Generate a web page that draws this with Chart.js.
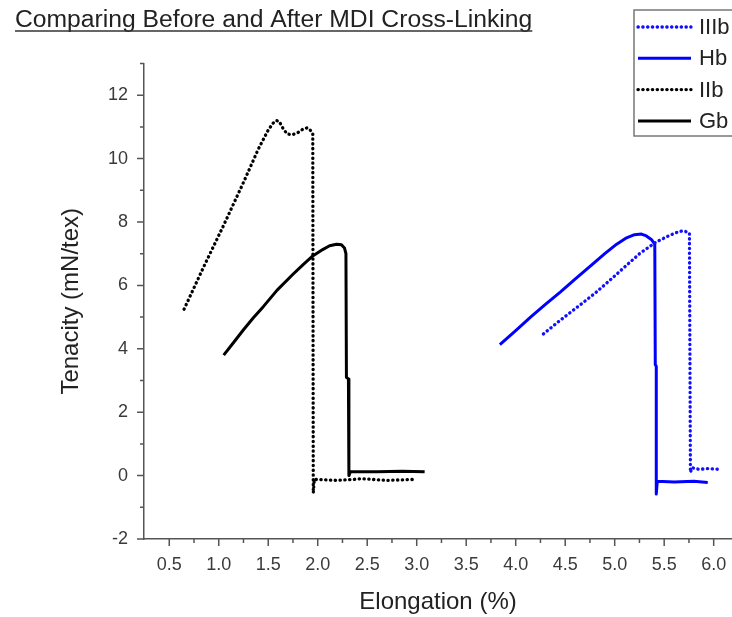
<!DOCTYPE html>
<html>
<head>
<meta charset="utf-8">
<title>MDI Cross-Linking</title>
<script src="https://cdn.jsdelivr.net/npm/chart.js@4.4.1/dist/chart.umd.min.js"></script>
<style>
  html, body { margin: 0; padding: 0; background: #fff; overflow: hidden; }
  #wrap { width: 732px; height: 617px; }
</style>
</head>
<body>
<div id="wrap"><canvas id="tensileChart" width="732" height="617"></canvas></div>
<script>
// IIIb - after cross-linking (dotted blue)
const iiibElong    = [4.28, 4.45, 4.62, 4.80, 4.95, 5.10, 5.25, 5.42, 5.55, 5.65, 5.70, 5.755, 5.765, 5.78, 5.85, 5.95, 6.04];
const iiibTenacity = [4.47, 4.90, 5.31, 5.75, 6.16, 6.58, 7.00, 7.37, 7.57, 7.70, 7.72, 7.65, 0.10, 0.25, 0.20, 0.22, 0.20];

// Hb - after cross-linking (solid blue)
const hbElong    = [3.84, 4.00, 4.15, 4.30, 4.45, 4.60, 4.78, 4.90, 5.02, 5.12, 5.20, 5.27, 5.32, 5.37, 5.405, 5.41, 5.42, 5.42, 5.43, 5.60, 5.80, 5.94];
const hbTenacity = [4.13, 4.57, 5.00, 5.40, 5.79, 6.20, 6.68, 7.00, 7.30, 7.50, 7.60, 7.62, 7.56, 7.45, 7.30, 3.50, 3.45, -0.58, -0.18, -0.20, -0.18, -0.22];

// IIb - before cross-linking (dotted black)
const iibElong    = [0.65, 0.85, 1.05, 1.25, 1.40, 1.50, 1.55, 1.58, 1.61, 1.65, 1.69, 1.74, 1.80, 1.86, 1.90, 1.93, 1.95, 1.955, 1.965, 2.20, 2.45, 2.70, 2.98];
const iibTenacity = [5.25, 6.60, 7.90, 9.25, 10.30, 10.90, 11.12, 11.20, 11.18, 10.95, 10.78, 10.75, 10.82, 10.95, 10.97, 10.88, 10.80, -0.55, -0.12, -0.15, -0.10, -0.15, -0.12];

// Gb - before cross-linking (solid black)
const gbElong    = [1.05, 1.15, 1.25, 1.35, 1.45, 1.59, 1.75, 1.85, 1.95, 2.05, 2.12, 2.19, 2.24, 2.27, 2.285, 2.29, 2.31, 2.315, 2.33, 2.60, 2.85, 3.08];
const gbTenacity = [3.80, 4.20, 4.60, 4.98, 5.33, 5.85, 6.35, 6.65, 6.93, 7.13, 7.25, 7.30, 7.28, 7.18, 7.00, 3.10, 3.05, 0.00, 0.12, 0.12, 0.14, 0.12];

// axis ticks
const xMajorTicks = [0.5, 1.0, 1.5, 2.0, 2.5, 3.0, 3.5, 4.0, 4.5, 5.0, 5.5, 6.0];
const xMinorTicks = [0.75, 1.25, 1.75, 2.25, 2.75, 3.25, 3.75, 4.25, 4.75, 5.25, 5.75];
const yMajorTicks = [-2, 0, 2, 4, 6, 8, 10, 12];
const yMinorTicks = [-1, 1, 3, 5, 7, 9, 11, 13];

const FONT = '"Liberation Sans", Arial, sans-serif';
const axisColor = '#555555';
const textColor = '#3a3a3a';

function toPoints(xs, ys) {
    return xs.map((x, i) => ({ x: x, y: ys[i] }));
}

function series(label, xs, ys, color, dotted) {
    return {
        label: label,
        data: toPoints(xs, ys),
        borderColor: color,
        borderWidth: dotted ? 3.3 : 3,
        borderDash: dotted ? [0.3, 4.5] : [],
        borderCapStyle: dotted ? 'round' : 'butt',
        borderJoinStyle: 'round',
        pointRadius: 0,
        tension: 0,
        fill: false
    };
}

// underlined title at the top left
const titlePlugin = {
    id: 'underlinedTitle',
    afterDraw(chart) {
        const ctx = chart.ctx;
        const text = 'Comparing Before and After MDI Cross-Linking';
        ctx.save();
        ctx.font = '24.7px ' + FONT;
        ctx.fillStyle = '#222';
        ctx.textBaseline = 'alphabetic';
        ctx.fillText(text, 15, 27);
        const w = ctx.measureText(text).width;
        ctx.strokeStyle = '#333';
        ctx.lineWidth = 1.5;
        ctx.beginPath();
        ctx.moveTo(15, 31);
        ctx.lineTo(15 + w, 31);
        ctx.stroke();
        ctx.restore();
    }
};

// outward major / minor tick marks
const tickMarks = {
    id: 'tickMarks',
    afterDraw(chart) {
        const { ctx, chartArea, scales: { x, y } } = chart;
        ctx.save();
        ctx.strokeStyle = axisColor;
        ctx.lineWidth = 1.5;
        ctx.beginPath();
        xMajorTicks.forEach(v => {
            const px = x.getPixelForValue(v);
            ctx.moveTo(px, chartArea.bottom);
            ctx.lineTo(px, chartArea.bottom + 7);
        });
        xMinorTicks.forEach(v => {
            const px = x.getPixelForValue(v);
            ctx.moveTo(px, chartArea.bottom);
            ctx.lineTo(px, chartArea.bottom + 4);
        });
        yMajorTicks.forEach(v => {
            const py = y.getPixelForValue(v);
            ctx.moveTo(chartArea.left, py);
            ctx.lineTo(chartArea.left - 7, py);
        });
        yMinorTicks.forEach(v => {
            const py = y.getPixelForValue(v);
            ctx.moveTo(chartArea.left, py);
            ctx.lineTo(chartArea.left - 4, py);
        });
        ctx.stroke();
        ctx.restore();
    }
};

// boxed legend in the top right corner
const boxLegend = {
    id: 'boxLegend',
    afterDraw(chart) {
        const ctx = chart.ctx;
        const left = 634, top = 10, rowGap = 31.3;
        ctx.save();
        ctx.strokeStyle = '#777';
        ctx.lineWidth = 1.5;
        ctx.strokeRect(left, top, 160, 126);
        chart.data.datasets.forEach((ds, i) => {
            const yRow = top + 17 + i * rowGap;
            ctx.beginPath();
            ctx.strokeStyle = ds.borderColor;
            ctx.lineWidth = ds.borderWidth;
            ctx.lineCap = ds.borderCapStyle;
            ctx.setLineDash(ds.borderDash);
            ctx.moveTo(left + 4, yRow);
            ctx.lineTo(left + 57, yRow);
            ctx.stroke();
            ctx.setLineDash([]);
            ctx.font = '22px ' + FONT;
            ctx.fillStyle = '#222';
            ctx.textBaseline = 'middle';
            ctx.fillText(ds.label, left + 65, yRow + 1);
        });
        ctx.restore();
    }
};

const ctx = document.getElementById('tensileChart');
new Chart(ctx, {
    type: 'line',
    data: {
        datasets: [
            series('IIIb', iiibElong, iiibTenacity, '#1010ff', true),
            series('Hb', hbElong, hbTenacity, '#0000ff', false),
            series('IIb', iibElong, iibTenacity, '#000000', true),
            series('Gb', gbElong, gbTenacity, '#000000', false)
        ]
    },
    options: {
        responsive: false,
        animation: false,
        layout: { padding: { top: 63.5, left: 0, right: 0, bottom: 0 } },
        plugins: {
            legend: { display: false },
            tooltip: { enabled: false }
        },
        scales: {
            x: {
                type: 'linear',
                min: 0.245,
                max: 6.185,
                afterBuildTicks: s => { s.ticks = xMajorTicks.map(v => ({ value: v })); },
                afterFit: s => { s.height = 78; },
                grid: { display: true, drawOnChartArea: false, drawTicks: true, tickLength: 15, color: 'transparent' },
                border: { display: true, color: axisColor, width: 1.5 },
                ticks: {
                    padding: 0,
                    maxRotation: 0,
                    autoSkip: false,
                    color: textColor,
                    font: { family: FONT, size: 18 },
                    callback: v => Number(v).toFixed(1)
                },
                title: {
                    display: true,
                    text: 'Elongation (%)',
                    color: '#222',
                    font: { family: FONT, size: 24 },
                    padding: { top: 0, bottom: 0 }
                }
            },
            y: {
                type: 'linear',
                min: -2,
                max: 13,
                afterBuildTicks: s => { s.ticks = yMajorTicks.map(v => ({ value: v })); },
                afterFit: s => { s.width = 144; },
                grid: { display: true, drawOnChartArea: false, drawTicks: true, tickLength: 16, color: 'transparent' },
                border: { display: true, color: axisColor, width: 1.5 },
                ticks: {
                    padding: 0,
                    autoSkip: false,
                    color: textColor,
                    font: { family: FONT, size: 18 },
                    callback: v => String(v)
                },
                title: {
                    display: true,
                    text: 'Tenacity (mN/tex)',
                    color: '#222',
                    font: { family: FONT, size: 24 },
                    padding: { top: 57, bottom: 0 }
                }
            }
        }
    },
    plugins: [titlePlugin, tickMarks, boxLegend]
});
</script>
</body>
</html>
